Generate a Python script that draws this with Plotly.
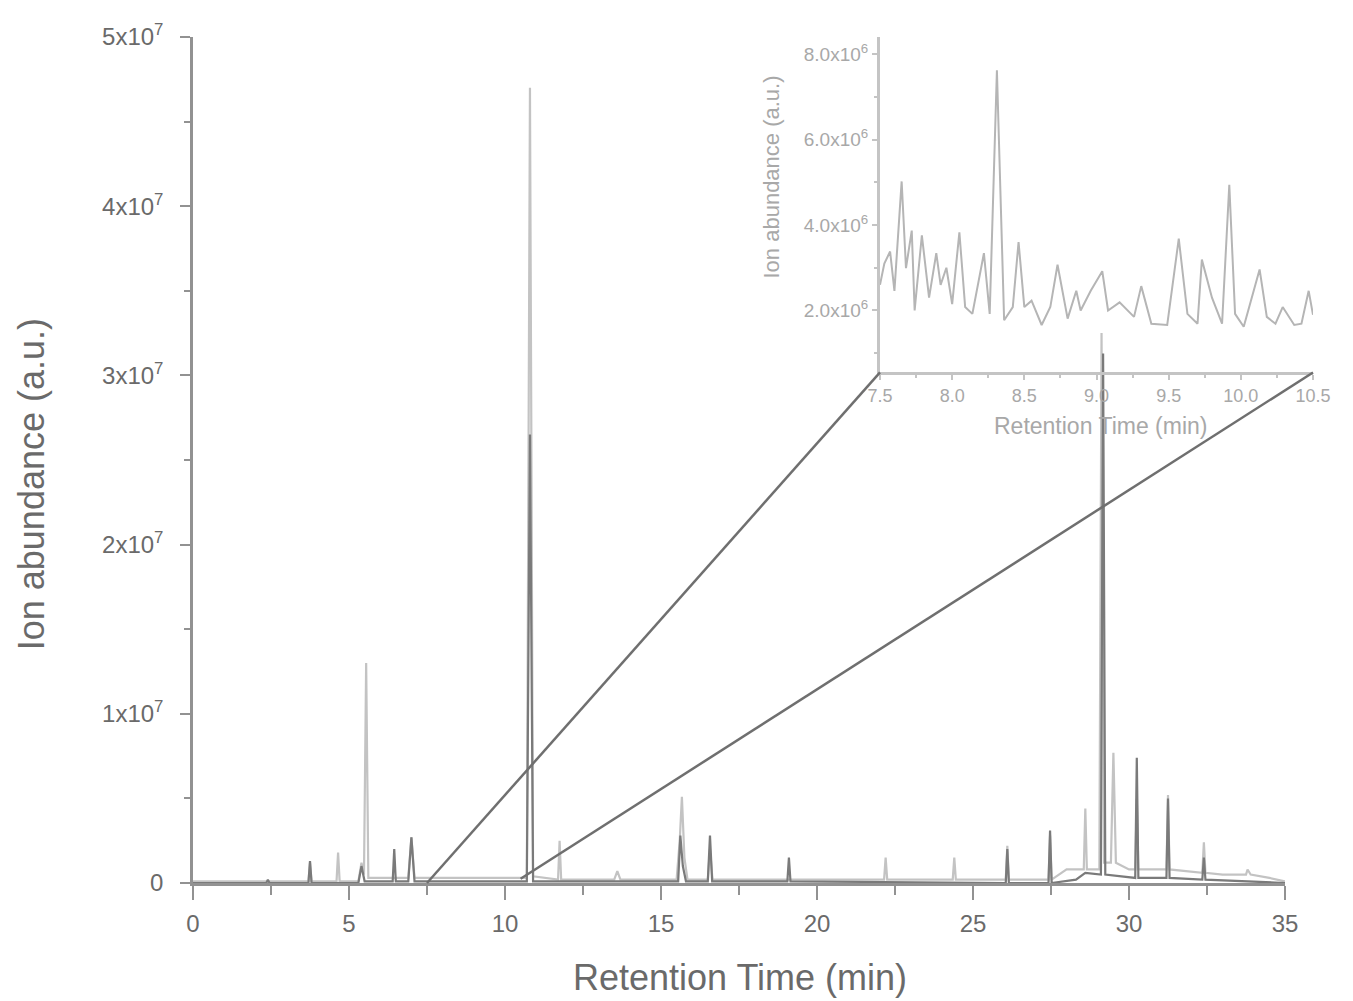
import plotly.graph_objects as go

# ---------------- data ----------------
# main chromatogram, light grey trace: (retention time [min], ion abundance [a.u.])
light_points = [
    (0.00, 0.01e7), (3.70, 0.01e7), (3.75, 0.12e7), (3.80, 0.01e7),
    (4.60, 0.01e7), (4.65, 0.18e7), (4.70, 0.01e7),
    (5.30, 0.01e7), (5.40, 0.12e7), (5.48, 0.05e7), (5.55, 1.30e7), (5.62, 0.03e7),
    (6.90, 0.03e7), (7.00, 0.27e7), (7.10, 0.03e7),
    (10.70, 0.03e7), (10.80, 4.70e7), (10.90, 0.04e7),
    (11.70, 0.02e7), (11.75, 0.25e7), (11.80, 0.02e7),
    (13.50, 0.02e7), (13.60, 0.07e7), (13.70, 0.02e7),
    (15.50, 0.02e7), (15.60, 0.25e7), (15.67, 0.51e7), (15.75, 0.15e7), (15.85, 0.02e7),
    (16.50, 0.02e7), (16.57, 0.20e7), (16.65, 0.02e7),
    (22.15, 0.02e7), (22.20, 0.15e7), (22.25, 0.02e7),
    (24.35, 0.02e7), (24.40, 0.15e7), (24.45, 0.02e7),
    (26.05, 0.02e7), (26.10, 0.22e7), (26.15, 0.02e7),
    (27.42, 0.02e7), (27.47, 0.28e7), (27.52, 0.02e7),
    (28.00, 0.08e7), (28.55, 0.08e7), (28.60, 0.44e7), (28.65, 0.08e7),
    (29.05, 0.08e7), (29.12, 3.25e7), (29.20, 0.12e7),
    (29.42, 0.12e7), (29.50, 0.77e7), (29.58, 0.12e7),
    (30.00, 0.08e7), (30.20, 0.08e7), (30.25, 0.50e7), (30.30, 0.08e7),
    (31.20, 0.08e7), (31.25, 0.52e7), (31.30, 0.08e7),
    (32.35, 0.06e7), (32.40, 0.24e7), (32.45, 0.06e7),
    (33.00, 0.05e7), (33.75, 0.05e7), (33.80, 0.08e7), (33.90, 0.05e7),
    (34.50, 0.03e7), (35.00, 0.01e7),
]

# main chromatogram, dark grey trace
dark_points = [
    (0.00, 0.0), (2.35, 0.0), (2.40, 0.02e7), (2.45, 0.0),
    (3.70, 0.0), (3.75, 0.13e7), (3.80, 0.0),
    (5.30, 0.0), (5.40, 0.10e7), (5.50, 0.01e7),
    (6.40, 0.01e7), (6.45, 0.20e7), (6.50, 0.01e7),
    (6.90, 0.01e7), (7.00, 0.27e7), (7.10, 0.01e7),
    (10.70, 0.01e7), (10.80, 2.65e7), (10.90, 0.01e7),
    (15.55, 0.01e7), (15.62, 0.28e7), (15.70, 0.10e7), (15.80, 0.01e7),
    (16.50, 0.01e7), (16.57, 0.28e7), (16.64, 0.01e7),
    (19.05, 0.01e7), (19.10, 0.15e7), (19.15, 0.01e7),
    (26.05, 0.0), (26.10, 0.20e7), (26.15, 0.0),
    (27.42, 0.0), (27.47, 0.31e7), (27.52, 0.0),
    (28.30, 0.02e7), (28.60, 0.06e7), (29.10, 0.05e7),
    (29.17, 3.13e7), (29.24, 0.05e7),
    (30.20, 0.03e7), (30.25, 0.74e7), (30.30, 0.03e7),
    (31.20, 0.03e7), (31.25, 0.50e7), (31.30, 0.03e7),
    (32.35, 0.02e7), (32.40, 0.15e7), (32.45, 0.02e7),
    (35.00, 0.0),
]

# inset (zoom 7.5 - 10.5 min)
inset_points = [
    (7.50, 2.6e6), (7.53, 3.1e6), (7.57, 3.38e6), (7.60, 2.46e6), (7.65, 5.02e6),
    (7.68, 2.99e6), (7.72, 3.87e6), (7.74, 2.0e6), (7.79, 3.76e6), (7.84, 2.3e6),
    (7.89, 3.34e6), (7.92, 2.6e6), (7.96, 3.0e6), (8.00, 2.15e6), (8.05, 3.83e6),
    (8.09, 2.08e6), (8.14, 1.92e6), (8.22, 3.34e6), (8.26, 1.92e6), (8.31, 7.62e6),
    (8.36, 1.77e6), (8.42, 2.08e6), (8.46, 3.6e6), (8.50, 2.08e6), (8.55, 2.23e6),
    (8.62, 1.66e6), (8.68, 2.08e6), (8.73, 3.07e6), (8.80, 1.81e6), (8.86, 2.46e6),
    (8.89, 2.0e6), (8.96, 2.46e6), (9.04, 2.92e6), (9.08, 2.0e6), (9.16, 2.19e6),
    (9.26, 1.85e6), (9.31, 2.57e6), (9.38, 1.69e6), (9.49, 1.66e6), (9.57, 3.68e6),
    (9.63, 1.92e6), (9.70, 1.69e6), (9.73, 3.19e6), (9.80, 2.3e6), (9.87, 1.69e6),
    (9.92, 4.94e6), (9.96, 1.92e6), (10.02, 1.62e6), (10.13, 2.96e6), (10.18, 1.85e6),
    (10.24, 1.69e6), (10.29, 2.08e6), (10.37, 1.66e6), (10.42, 1.69e6), (10.47, 2.46e6),
    (10.50, 1.9e6),
]

main_x_ticks = [0, 5, 10, 15, 20, 25, 30, 35]
main_y_ticks = [0, 1e7, 2e7, 3e7, 4e7, 5e7]
main_y_labels = ["0", "1x10<sup>7</sup>", "2x10<sup>7</sup>", "3x10<sup>7</sup>",
                 "4x10<sup>7</sup>", "5x10<sup>7</sup>"]
inset_x_ticks = [7.5, 8.0, 8.5, 9.0, 9.5, 10.0, 10.5]
inset_x_labels = ["7.5", "8.0", "8.5", "9.0", "9.5", "10.0", "10.5"]
inset_y_ticks = [2e6, 4e6, 6e6, 8e6]
inset_y_labels = ["2.0x10<sup>6</sup>", "4.0x10<sup>6</sup>", "6.0x10<sup>6</sup>",
                  "8.0x10<sup>6</sup>"]

# ---------------- layout constants ----------------
W, H = 1353, 1001
PAGE_OFF = 8            # default body margin of the html page
PLOT_L, PLOT_T = 193, 28  # plot-area corner on the page
PW, PH = 1130, 855
ML, MT = PLOT_L - PAGE_OFF, PLOT_T - PAGE_OFF
MR = W - ML - PW
MB = H - MT - PH
PLOT_B = PLOT_T + PH


def px_to_paper_x(px):
    return (px - PLOT_L) / PW


def px_to_paper_y(py):
    return (PLOT_B - py) / PH


MAIN_XR = [0, 35]
MAIN_YR = [0, 5e7]
MAIN_XDOM = [0, px_to_paper_x(1285)]
INSET_XR = [7.5, 10.5]
INSET_YR = [0.55e6, 8.4e6]
INSET_XDOM = [px_to_paper_x(880), px_to_paper_x(1313)]
INSET_YDOM = [px_to_paper_y(367), 1.0]

FONT = "Liberation Sans, Arial, sans-serif"
AXIS_C = "#929292"
TEXT_C = "#6a6a6a"
INSET_AX_C = "#c4c4c4"
INSET_TXT_C = "#a8a8a8"


def to_paper(v, rng, dom):
    return dom[0] + (v - rng[0]) / (rng[1] - rng[0]) * (dom[1] - dom[0])


fig = go.Figure()

fig.add_trace(go.Scatter(
    x=[p[0] for p in light_points], y=[p[1] for p in light_points],
    mode="lines", line=dict(color="#c3c3c3", width=2.2), xaxis="x", yaxis="y",
    showlegend=False, hoverinfo="skip"))
fig.add_trace(go.Scatter(
    x=[p[0] for p in dark_points], y=[p[1] for p in dark_points],
    mode="lines", line=dict(color="#7a7a7a", width=2.2), xaxis="x", yaxis="y",
    showlegend=False, hoverinfo="skip"))
fig.add_trace(go.Scatter(
    x=[p[0] for p in inset_points], y=[p[1] for p in inset_points],
    mode="lines", line=dict(color="#b5b5b5", width=2), xaxis="x2", yaxis="y2",
    showlegend=False, hoverinfo="skip"))

# connector lines from the main x-axis (7.5 and 10.5 min) to the inset corners
conn = [
    (to_paper(INSET_XR[0], MAIN_XR, MAIN_XDOM), 0, INSET_XDOM[0], INSET_YDOM[0]),
    (to_paper(INSET_XR[1], MAIN_XR, MAIN_XDOM), 0.005, INSET_XDOM[1], INSET_YDOM[0]),
]
shapes = []
for x0, y0, x1, y1 in conn:
    shapes.append(dict(type="line", xref="paper", yref="paper", x0=x0, y0=y0,
                       x1=x1, y1=y1, line=dict(color="#6f6f6f", width=2.5)))

annotations = [
    dict(text="Retention Time (min)", xref="paper", yref="paper",
         x=px_to_paper_x(740), y=px_to_paper_y(978), xanchor="center", yanchor="middle",
         showarrow=False, font=dict(family=FONT, size=36, color=TEXT_C)),
    dict(text="Ion abundance (a.u.)", xref="paper", yref="paper",
         x=px_to_paper_x(31), y=px_to_paper_y(480), xanchor="center", yanchor="middle",
         showarrow=False, textangle=-90,
         font=dict(family=FONT, size=36, color=TEXT_C)),
    dict(text="Retention Time (min)", xref="paper", yref="paper",
         x=px_to_paper_x(1100), y=px_to_paper_y(421), xanchor="center", yanchor="middle",
         showarrow=False, font=dict(family=FONT, size=23, color=INSET_TXT_C)),
    dict(text="Ion abundance (a.u.)", xref="paper", yref="paper",
         x=px_to_paper_x(772), y=px_to_paper_y(170), xanchor="center", yanchor="middle",
         showarrow=False, textangle=-90,
         font=dict(family=FONT, size=22, color=INSET_TXT_C)),
]

fig.update_layout(
    width=W, height=H,
    margin=dict(l=ML, r=MR, t=MT, b=MB),
    paper_bgcolor="white", plot_bgcolor="rgba(0,0,0,0)",
    font=dict(family=FONT, color=TEXT_C),
    shapes=shapes, annotations=annotations,
    xaxis=dict(domain=MAIN_XDOM, range=MAIN_XR, showgrid=False, zeroline=False,
               showline=True, linecolor=AXIS_C, linewidth=2.5,
               ticks="outside", ticklen=14, tickwidth=2, tickcolor=AXIS_C,
               tickvals=main_x_ticks, ticktext=[str(v) for v in main_x_ticks],
               minor=dict(ticks="outside", ticklen=9, tickwidth=2, tickcolor=AXIS_C, dtick=2.5),
               tickfont=dict(family=FONT, size=24, color=TEXT_C), ticklabelstandoff=3),
    yaxis=dict(domain=[0, 1], range=MAIN_YR, showgrid=False, zeroline=False,
               showline=True, linecolor=AXIS_C, linewidth=2.5,
               ticks="outside", ticklen=10, tickwidth=2, tickcolor=AXIS_C,
               tickvals=main_y_ticks, ticktext=main_y_labels,
               minor=dict(ticks="outside", ticklen=6, tickwidth=2, tickcolor=AXIS_C, dtick=0.5e7),
               tickfont=dict(family=FONT, size=24, color=TEXT_C), ticklabelstandoff=12),
    xaxis2=dict(domain=INSET_XDOM, range=INSET_XR, anchor="y2", showgrid=False,
                zeroline=False, showline=True, linecolor=INSET_AX_C, linewidth=3,
                ticks="outside", ticklen=5, tickwidth=2, tickcolor=INSET_AX_C,
                tickvals=inset_x_ticks, ticktext=inset_x_labels,
                minor=dict(ticks="outside", ticklen=3, tickwidth=1.5, tickcolor=INSET_AX_C, dtick=0.25),
                tickfont=dict(family=FONT, size=18, color=INSET_TXT_C)),
    yaxis2=dict(domain=INSET_YDOM, range=INSET_YR, anchor="x2", showgrid=False,
                zeroline=False, showline=True, linecolor=INSET_AX_C, linewidth=3,
                ticks="outside", ticklen=5, tickwidth=2, tickcolor=INSET_AX_C,
                tickvals=inset_y_ticks, ticktext=inset_y_labels,
                minor=dict(ticks="outside", ticklen=3, tickwidth=1.5, tickcolor=INSET_AX_C, dtick=1e6),
                tickfont=dict(family=FONT, size=19, color=INSET_TXT_C)),
)

fig.write_html("out.html")
